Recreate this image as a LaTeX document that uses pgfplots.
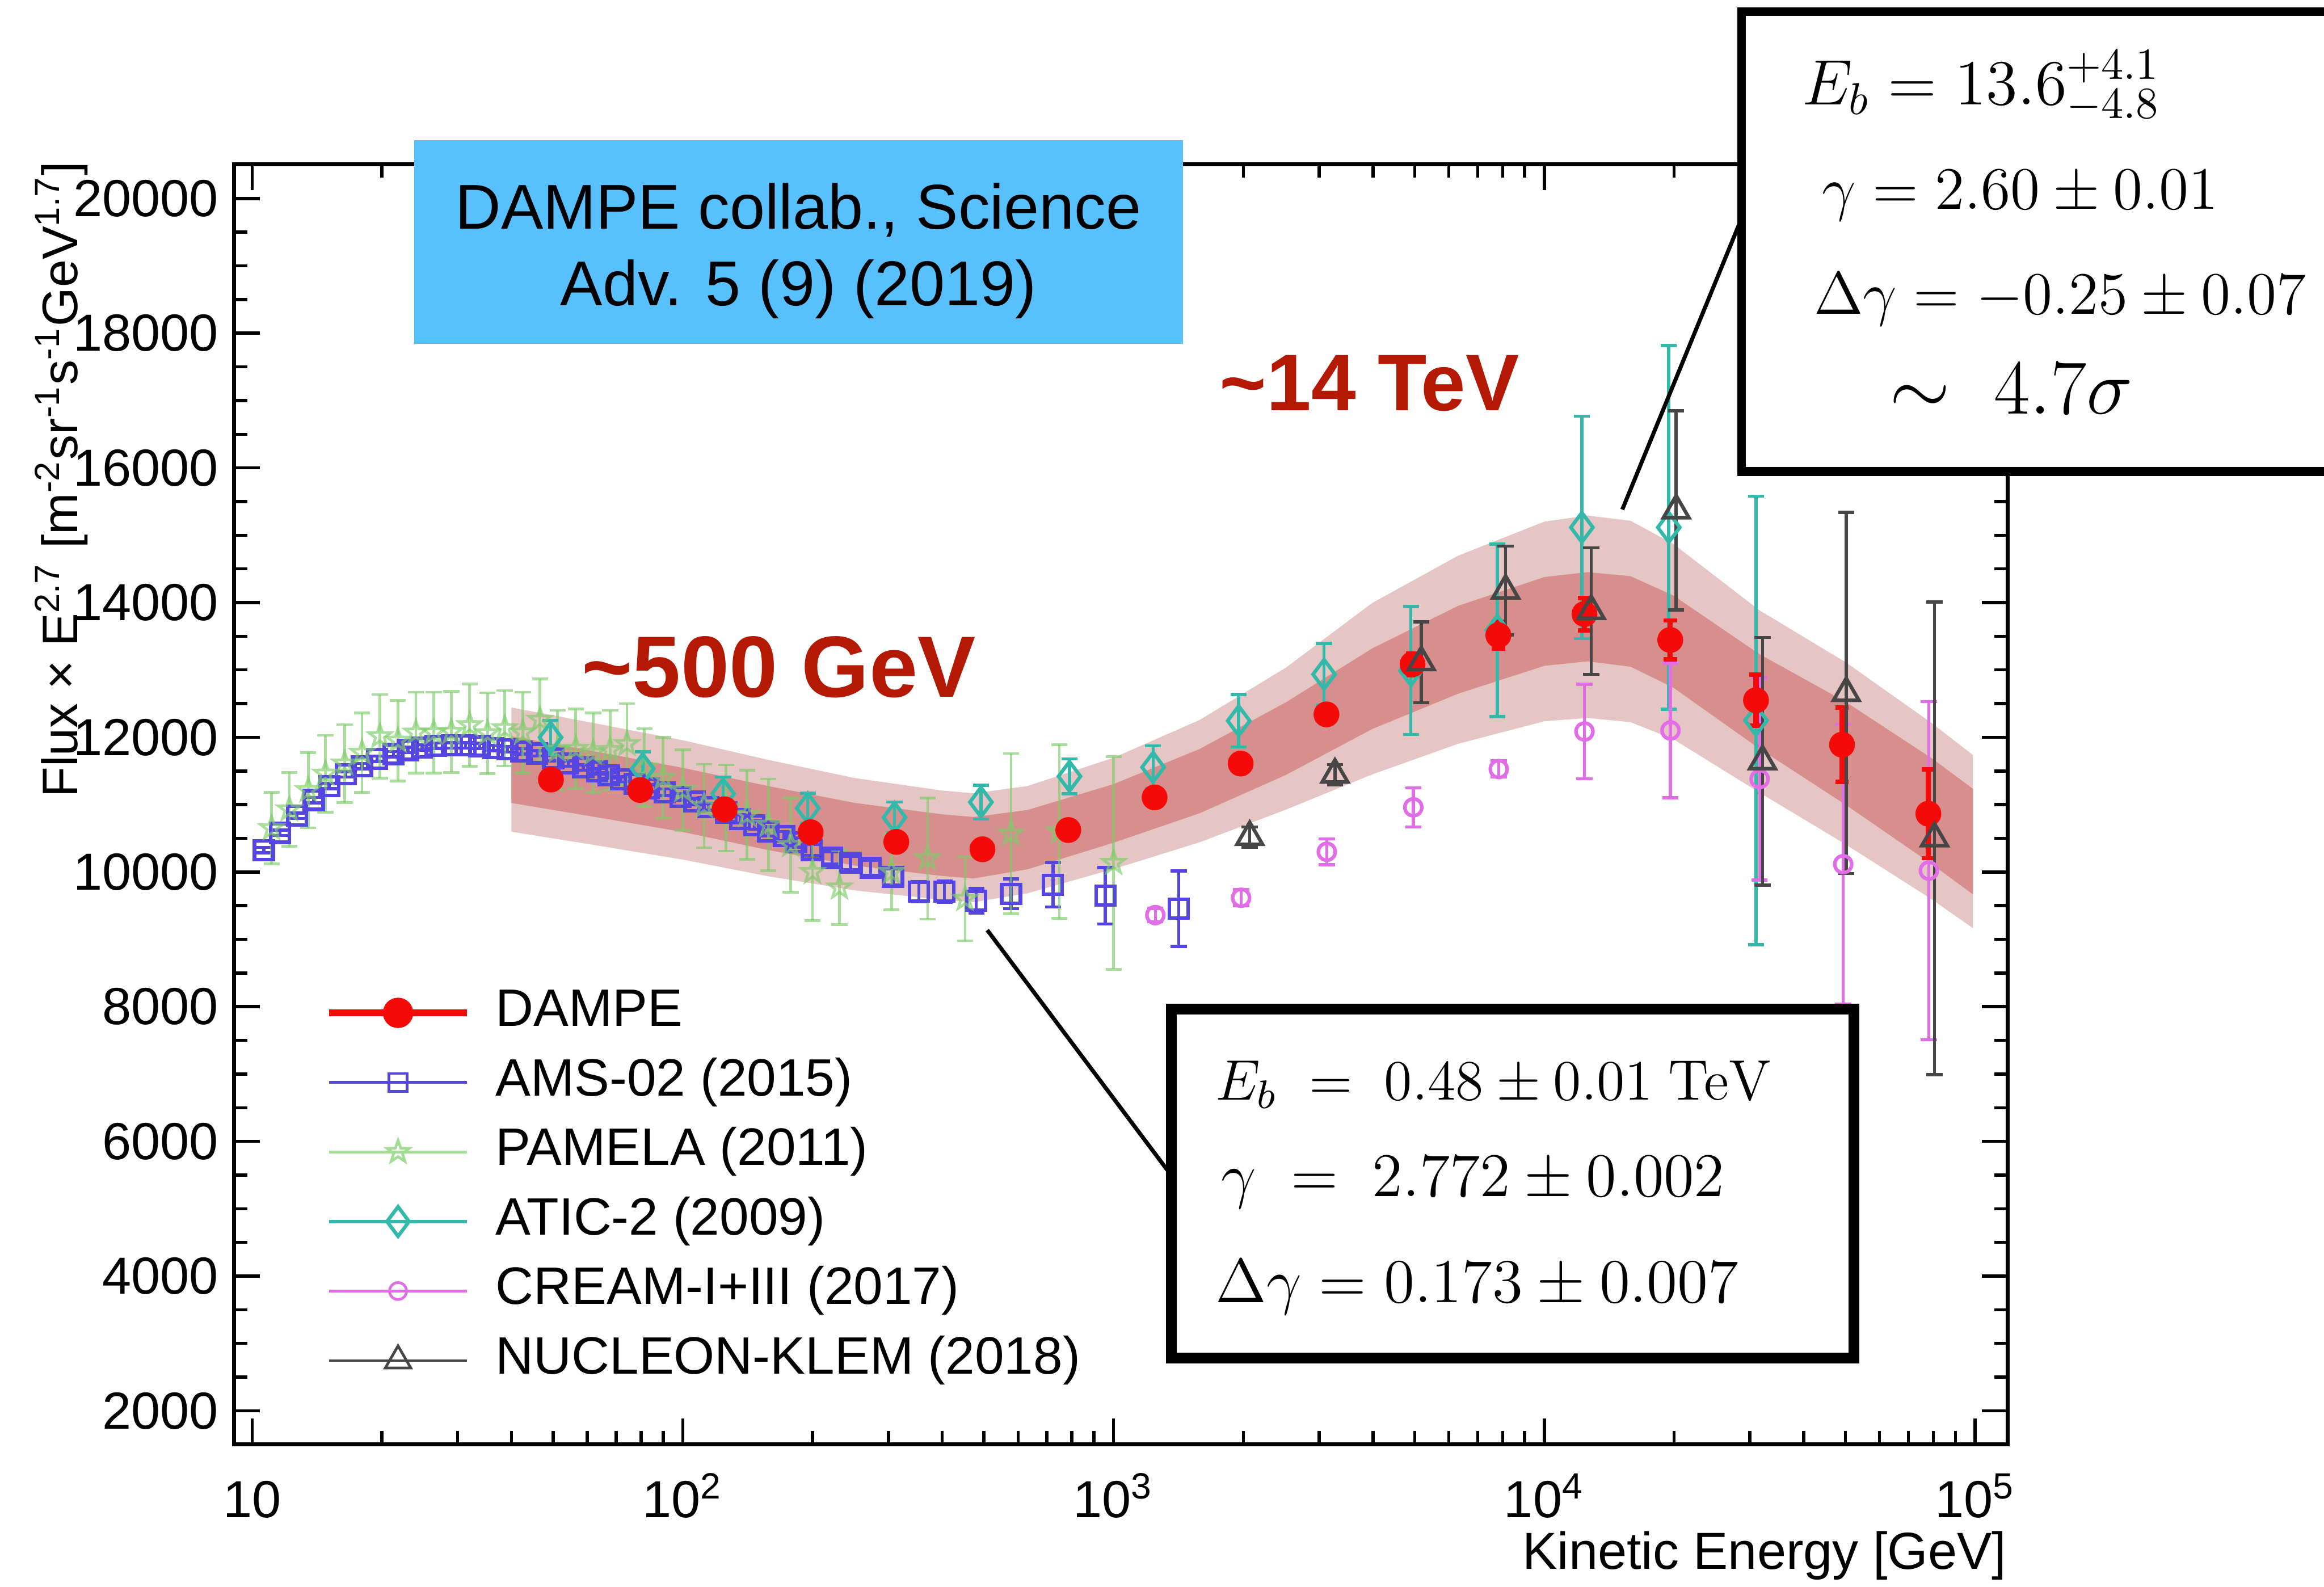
\RequirePackage{fix-cm}
\documentclass[border=0pt]{standalone}
\usepackage[no-math]{fontspec}
\setmainfont{Liberation Sans}
\usepackage{pgfplots}
\pgfplotsset{compat=1.18}
\definecolor{dampered}{RGB}{245,10,10}
\definecolor{amsblue}{RGB}{85,70,225}
\definecolor{pamgreen}{RGB}{125,205,105}
\definecolor{aticteal}{RGB}{50,185,170}
\definecolor{creamviolet}{RGB}{225,110,230}
\definecolor{nucgray}{RGB}{70,70,70}
\definecolor{bandout}{RGB}{230,198,196}
\definecolor{bandin}{RGB}{214,143,140}
\definecolor{boxblue}{RGB}{88,192,252}
\definecolor{annred}{RGB}{180,25,5}
\pgfdeclareplotmark{ostar}{%
  \pgfpathmoveto{\pgfpointpolar{90}{\pgfplotmarksize}}%
  \pgfpathlineto{\pgfpointpolar{126}{0.4\pgfplotmarksize}}%
  \pgfpathlineto{\pgfpointpolar{162}{\pgfplotmarksize}}%
  \pgfpathlineto{\pgfpointpolar{198}{0.4\pgfplotmarksize}}%
  \pgfpathlineto{\pgfpointpolar{234}{\pgfplotmarksize}}%
  \pgfpathlineto{\pgfpointpolar{270}{0.4\pgfplotmarksize}}%
  \pgfpathlineto{\pgfpointpolar{306}{\pgfplotmarksize}}%
  \pgfpathlineto{\pgfpointpolar{342}{0.4\pgfplotmarksize}}%
  \pgfpathlineto{\pgfpointpolar{18}{\pgfplotmarksize}}%
  \pgfpathlineto{\pgfpointpolar{54}{0.4\pgfplotmarksize}}%
  \pgfpathclose\pgfusepathqstroke}
\begin{document}
\begin{tikzpicture}
\useasboundingbox (0,0) rectangle (521.3pt,355.9pt);
\clip (0,0) rectangle (521.3pt,355.9pt);
\begin{axis}[
  at={(52.5pt,31.9pt)}, anchor=south west,
  scale only axis, width=397.8pt, height=287.1pt,
  xmode=log, xmin=9.08, xmax=118900, ymin=1500, ymax=20505,
  axis line style={line width=0.9pt},
  every tick/.style={black, line width=0.7pt},
  tick align=inside, tick pos=both,
  major tick length=5.8pt, minor tick length=3pt,
  xtick={10,100,1000,10000,100000},
  xticklabels={10,10\textsuperscript{2},10\textsuperscript{3},10\textsuperscript{4},10\textsuperscript{5}},
  ytick={2000,4000,6000,8000,10000,12000,14000,16000,18000,20000},
  minor y tick num=3,
  scaled y ticks=false,
  /pgf/number format/assume math mode=true,
  /pgf/number format/1000 sep={},
  tick label style={font=\fontsize{11.7}{13}\selectfont},
  xticklabel style={anchor=base, yshift=-16.4pt},
  legend style={at={(0.0515,0.3567)}, anchor=north west, draw=none, fill=none,
    inner sep=0pt, outer sep=0pt, row sep=4.4pt, column sep=5.6pt,
    font=\fontsize{11.8}{13}\selectfont,
    nodes={inner sep=0pt, text height=8.6pt, text depth=2.6pt}},
  legend cell align=left,
  legend image code/.code={\draw[mark repeat=2,mark phase=2] plot coordinates {(0pt,0pt) (15.5pt,0pt) (31pt,0pt)};},
]
% DAMPE band (outer and inner)
\addplot[forget plot, fill=bandout, draw=none] coordinates {
(40,12442) (63,12204) (100,11956) (158,11664) (251,11394) (398,11211) (473,11168) (631,11276) (1000,11696) (1585,12258) (2512,13034) (3981,13992) (6310,14697) (10000,15202) (12590,15293) (15850,15215) (19950,14869) (31620,13883) (50120,13112) (79430,12208) (98900,11735)
(98900,9165) (79430,9592) (50120,10408) (31620,11177) (19950,11971) (15850,12225) (12590,12287) (10000,12238) (6310,11904) (3981,11448) (2512,10926) (1585,10442) (1000,10044) (631,9684) (473,9552) (398,9589) (251,9726) (158,9936) (100,10184) (63,10396) (40,10598)
} -- cycle;
\addplot[forget plot, fill=bandin, draw=none] coordinates {
(40,12015) (63,11786) (100,11546) (158,11275) (251,11025) (398,10858) (473,10816) (631,10920) (1000,11305) (1585,11827) (2512,12519) (3981,13318) (6310,13952) (10000,14379) (12590,14452) (15850,14392) (19950,14104) (31620,13232) (50120,12524) (79430,11685) (98900,11234)
(98900,9666) (79430,10115) (50120,10996) (31620,11828) (19950,12736) (15850,13048) (12590,13128) (10000,13061) (6310,12648) (3981,12122) (2512,11441) (1585,10873) (1000,10435) (631,10040) (473,9904) (398,9942) (251,10095) (158,10325) (100,10594) (63,10814) (40,11025)
} -- cycle;
% AMS-02
\addplot[forget plot, only marks, color=amsblue, mark=square, mark size=2.1pt, mark options={line width=0.8pt},
  error bars/.cd, y dir=both, y explicit, error bar style={line width=0.7pt},
  error mark options={rotate=90, mark size=1.8pt, line width=0.7pt}]
  table[x=E, y=F, y error=e] {
E F e
10.65 10325 40
11.6 10580 40
12.7 10835 40
13.9 11068 40
15.1 11277 40
16.5 11450 40
18.0 11570 40
19.5 11680 40
21.3 11750 40
23.0 11810 40
24.8 11850 40
26.7 11875 40
29.1 11880 40
31.3 11880 40
33.7 11870 40
36.3 11840 40
39.2 11820 40
42.2 11790 40
45.9 11760 40
50.0 11690 40
54.2 11610 40
58.7 11550 40
63.2 11495 40
67.3 11435 40
71.8 11375 40
77.3 11310 40
83.3 11244 50
90.7 11184 50
98.8 11114 50
106.4 11045 50
114.6 10966 50
126.1 10882 60
135.9 10789 60
146.5 10696 60
157.8 10603 70
171.8 10533 70
183.2 10440 70
199 10327 80
222 10209 90
245 10135 100
273 10062 110
307.5 9929 120
353 9707 150
405 9707 160
480 9574 180
578 9677 220
723 9810 330
957 9648 420
1416 9455 560
};
% PAMELA
\addplot[forget plot, only marks, color=pamgreen, mark=ostar, mark size=2.6pt,
  mark options={line width=0.6pt, opacity=0.65},
  error bars/.cd, y dir=both, y explicit, error bar style={line width=0.6pt, opacity=0.65},
  error mark options={rotate=90, mark size=1.8pt, line width=0.6pt, opacity=0.65}]
  table[x=E, y=F, y error=e] {
E F e
11.1 10650 530
12.2 10930 550
13.5 11215 560
14.8 11460 570
16.4 11610 580
18.0 11770 590
19.8 12015 620
21.8 11950 600
24.0 12070 600
26.4 12070 600
29.0 12080 600
32.0 12180 610
35.2 12060 600
38.6 12135 560
42.5 12070 600
46.6 12260 610
51.2 11810 590
56.4 11830 590
61.9 11770 590
67.8 11810 590
74.2 11900 600
81.4 11550 580
90 11400 600
100 11215 600
112 10980 620
126 10950 640
141 10850 660
158 10700 680
178 10400 700
200 10000 720
231 9770 550
305 10000 560
370 10200 900
452 9600 620
578 10570 1190
748 10600 1290
1000 10135 1580
};
% ATIC-2
\addplot[forget plot, only marks, color=aticteal, mark=diamond, mark size=3.3pt, mark options={line width=0.8pt},
  error bars/.cd, y dir=both, y explicit, error bar style={line width=0.7pt},
  error mark options={rotate=90, mark size=1.8pt, line width=0.7pt}]
  table[x=E, y=F, y error=e] {
E F e
49.3 11998 250
80.7 11533 250
124 11160 250
195 10948 220
310 10810 230
492 11037 250
790 11420 260
1235 11555 320
1952 12245 390
3080 12935 460
4900 12990 950
7780 13587 1280
12220 15116 1650
19450 15116 2700
31000 12250 3330
};
% CREAM-I+III
\addplot[forget plot, only marks, color=creamviolet, mark=o, mark size=1.9pt, mark options={line width=0.8pt},
  error bars/.cd, y dir=both, y explicit, error bar style={line width=0.7pt},
  error mark options={rotate=90, mark size=1.8pt, line width=0.7pt}]
  table[x=E, y=F, y error=e] {
E F e
1250 9360 100
1977 9617 120
3126 10300 190
4964 10960 290
7838 11528 120
12390 12086 700
19630 12101 1000
31600 11380 1500
49400 10115 2080
78100 10020 2510
};
% DAMPE
\addplot[forget plot, only marks, color=dampered, mark=*, mark size=2.7pt,
  error bars/.cd, y dir=both, y explicit, error bar style={line width=1.2pt},
  error mark options={rotate=90, mark size=1.5pt, line width=1pt}]
  table[x=E, y=F, y error=e] {
E F e
49.4 11372 60
79.6 11217 60
125 10931 60
198 10590 60
313 10447 60
496 10337 70
785 10623 80
1245 11107 90
1972 11610 110
3120 12340 130
4943 13085 160
7820 13515 200
12390 13830 240
19600 13445 290
31000 12550 380
49100 11890 550
77900 10865 660
};
% NUCLEON-KLEM
\addplot[forget plot, only marks, color=nucgray, mark=triangle, mark size=3.3pt, mark options={line width=0.8pt},
  error bars/.cd, y dir=both, y explicit, error bar style={line width=0.7pt},
  error mark options={rotate=90, mark size=1.8pt, line width=0.7pt}]
  table[x=E, y=F, y error=e] {
E F e
2070 10520 150
3265 11446 150
5178 13115 600
8128 14179 660
12850 13875 940
20230 15370 1480
32100 11644 1840
50200 12658 2680
80500 10500 3510
};
% legend
\addlegendimage{color=dampered, line width=1.6pt, mark=*, mark size=2.6pt}
\addlegendentry{DAMPE}
\addlegendimage{color=amsblue, line width=0.6pt, mark=square, mark size=2pt}
\addlegendentry{AMS-02 (2015)}
\addlegendimage{color=pamgreen!70, line width=0.6pt, mark=ostar, mark size=2.6pt}
\addlegendentry{PAMELA (2011)}
\addlegendimage{color=aticteal, line width=0.8pt, mark=diamond, mark size=3.3pt}
\addlegendentry{ATIC-2 (2009)}
\addlegendimage{color=creamviolet, line width=0.6pt, mark=o, mark size=1.9pt}
\addlegendentry{CREAM-I+III (2017)}
\addlegendimage{color=nucgray, line width=0.6pt, mark=triangle, mark size=3.3pt}
\addlegendentry{NUCLEON-KLEM (2018)}
\coordinate (c1) at (axis cs:509,9137);
\coordinate (c2) at (axis cs:15170,15382);
\end{axis}
% connector lines
\draw[line width=0.9pt] (c1) -- (262.7pt,92.3pt);
\draw[line width=0.9pt] (c2) -- (390.6pt,306.8pt);
% boxes
\draw[line width=2.4pt, fill=white] (262.7pt,129.5pt) rectangle (415.9pt,51.3pt);
\draw[line width=2pt, fill=white] (390.65pt,353.3pt) rectangle (540pt,250.1pt);
\fill[boxblue] (92.9pt,324.5pt) rectangle (265.3pt,278.8pt);
% top box text
\node[anchor=base west, inner sep=0, font=\fontsize{14.4}{16}\selectfont] at (404.1pt,332.4pt) {$E_b = 13.6^{+4.1}_{-4.8}$};
\node[anchor=base west, inner sep=0, font=\fontsize{13.5}{15}\selectfont] at (408.5pt,309.0pt) {$\gamma = 2.60 \pm 0.01$};
\node[anchor=base west, inner sep=0, font=\fontsize{13.5}{15}\selectfont] at (406.7pt,285.5pt) {$\Delta\gamma = -0.25 \pm 0.07$};
\node[anchor=base west, inner sep=0, font=\fontsize{17.5}{19}\selectfont] at (423.7pt,263.1pt) {$\sim\; 4.7\sigma$};
% bottom box text
\node[anchor=base west, inner sep=0, font=\fontsize{12.8}{14}\selectfont] at (272.5pt,109.2pt) {$E_b \;=\; 0.48 \pm 0.01\;\mathrm{TeV}$};
\node[anchor=base west, inner sep=0, font=\fontsize{13.9}{15}\selectfont] at (273.8pt,87.6pt) {$\gamma \;=\; 2.772 \pm 0.002$};
\node[anchor=base west, inner sep=0, font=\fontsize{14}{15}\selectfont] at (272.5pt,63.7pt) {$\Delta\gamma = 0.173 \pm 0.007$};
% blue box text
\node[anchor=base, inner sep=0, font=\fontsize{14.2}{16}\selectfont] at (179.1pt,304.6pt) {DAMPE collab., Science};
\node[anchor=base, inner sep=0, font=\fontsize{14.2}{16}\selectfont] at (179.1pt,287.4pt) {Adv. 5 (9) (2019)};
% red annotations
\node[anchor=base west, inner sep=0, text=annred, font=\fontsize{18}{20}\selectfont\bfseries] at (273.4pt,263.8pt) {\textasciitilde 14 TeV};
\node[anchor=base west, inner sep=0, text=annred, font=\fontsize{19.5}{21}\selectfont\bfseries] at (130.3pt,199.6pt) {\textasciitilde 500 GeV};
% axis titles
\node[rotate=90, anchor=base east, inner sep=0, font=\fontsize{11.2}{13}\selectfont] at (17.4pt,319.8pt) {Flux × E\textsuperscript{2.7} [m\textsuperscript{-2}sr\textsuperscript{-1}s\textsuperscript{-1}GeV\textsuperscript{1.7}]};
\node[anchor=base east, inner sep=0, font=\fontsize{11.7}{13}\selectfont] at (450.3pt,3.9pt) {Kinetic Energy [GeV]};
\end{tikzpicture}
\end{document}
